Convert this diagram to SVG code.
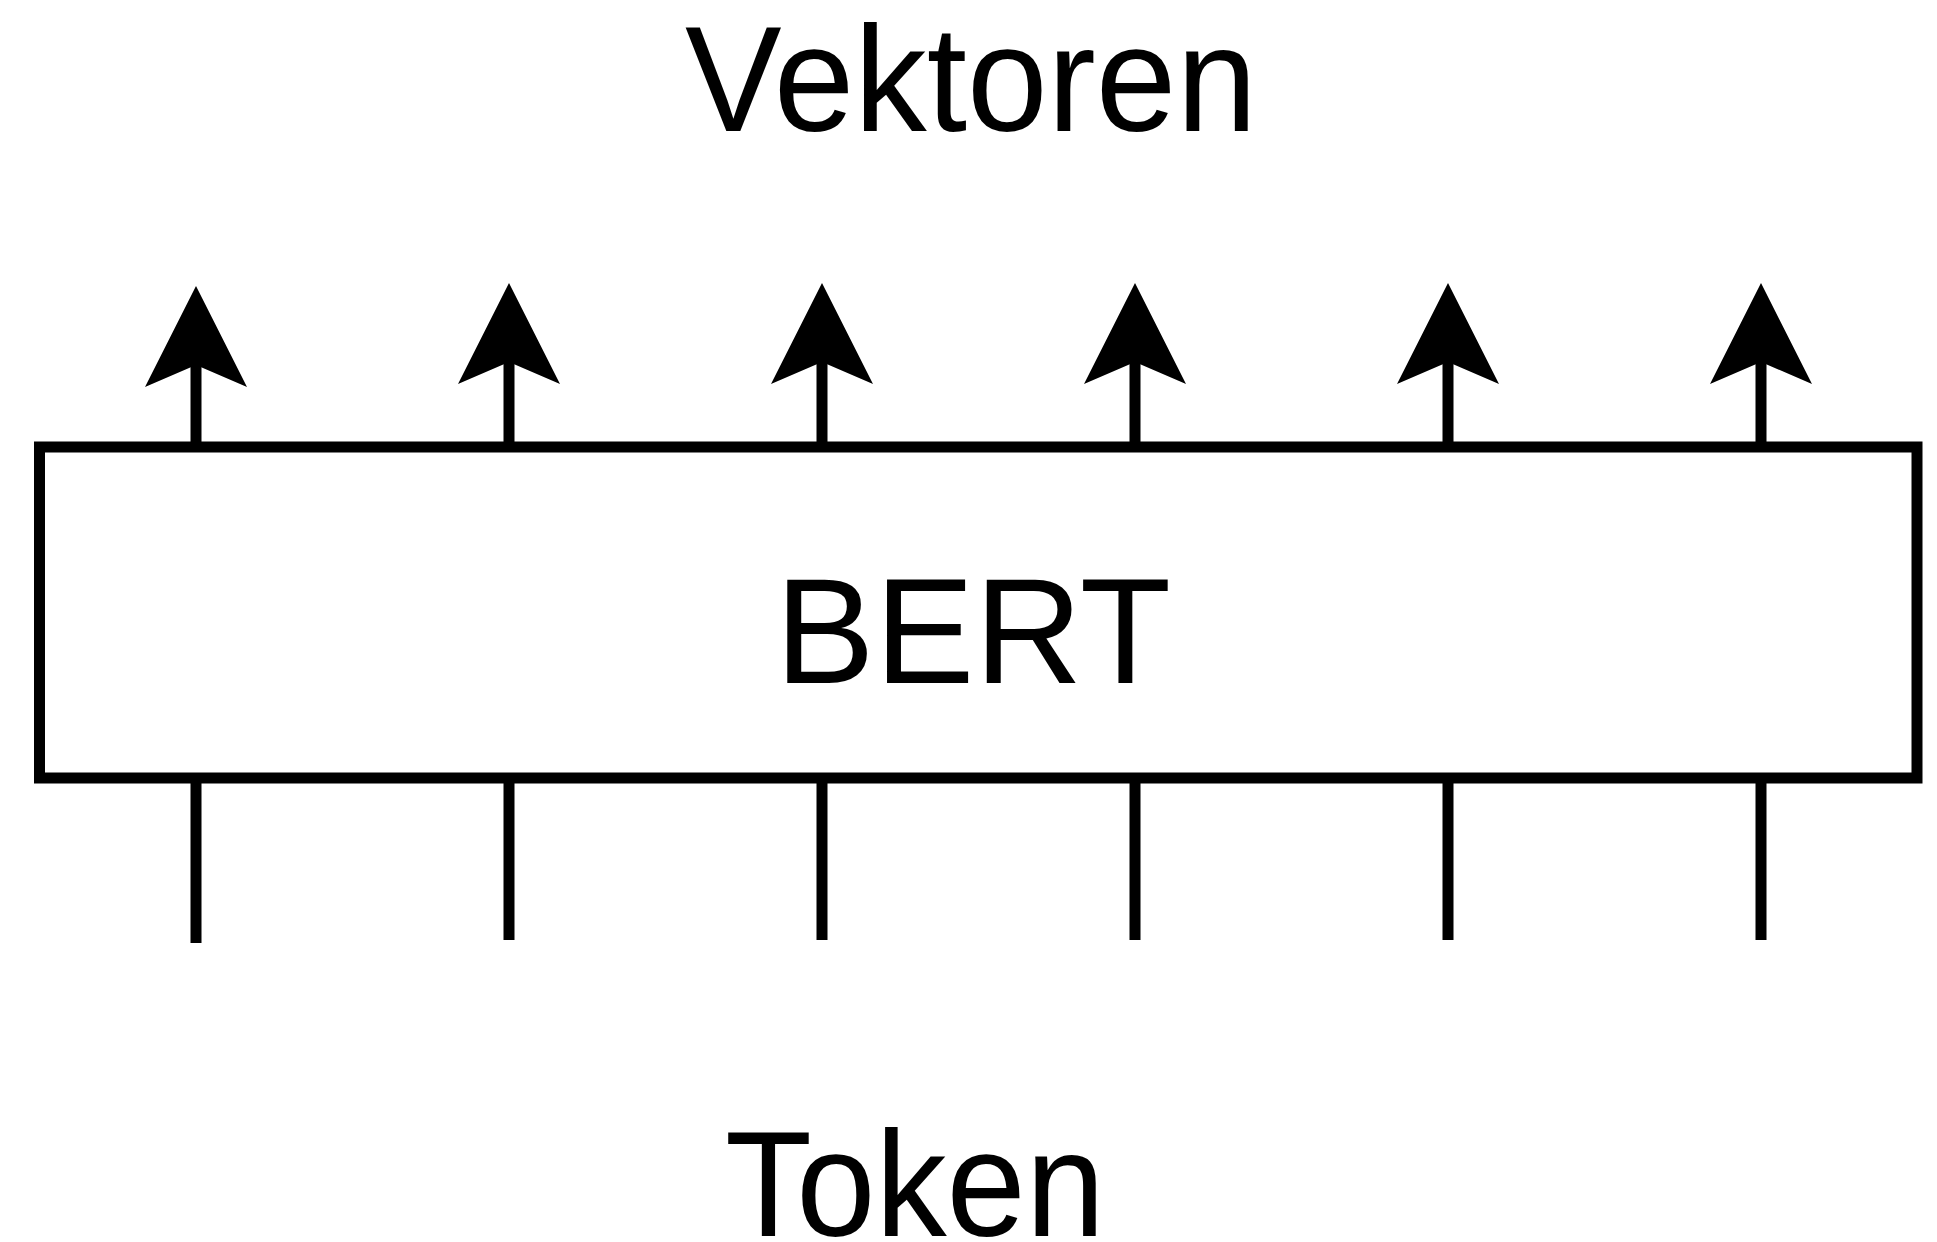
<svg xmlns="http://www.w3.org/2000/svg" width="1937" height="1242" viewBox="0 0 1937 1242">
<style>
.lbl{font-family:"Liberation Sans",Arial,sans-serif;font-size:150px;fill:#000;text-anchor:middle}
.conn{stroke:#000;stroke-width:11;fill:none}
.box{fill:#fff;stroke:#000;stroke-width:11}
</style>
<defs>
<marker id="ah" markerUnits="userSpaceOnUse" markerWidth="200" markerHeight="200" viewBox="-100 -100 200 200" refX="0" refY="0" orient="auto" overflow="visible">
<path d="M78,0 L-23,51 L-1,0 L-23,-51 Z" fill="#000"/>
</marker>
</defs>
<rect width="1937" height="1242" fill="#fff"/>
<g id="label-vektoren"><text class="lbl" x="971" y="131" textLength="572" lengthAdjust="spacingAndGlyphs">Vektoren</text></g>
<g id="node-bert">
<rect class="box" x="39.5" y="447" width="1877.5" height="331"/>
<text class="lbl" x="973" y="683" textLength="396" lengthAdjust="spacingAndGlyphs">BERT</text>
</g>
<g id="label-token"><text class="lbl" x="915" y="1236" textLength="380" lengthAdjust="spacingAndGlyphs">Token</text></g>
<g id="connectors">
<line class="conn" x1="196" y1="447" x2="196" y2="364" marker-end="url(#ah)"/>
<line class="conn" x1="509" y1="447" x2="509" y2="361" marker-end="url(#ah)"/>
<line class="conn" x1="822" y1="447" x2="822" y2="361" marker-end="url(#ah)"/>
<line class="conn" x1="1135" y1="447" x2="1135" y2="361" marker-end="url(#ah)"/>
<line class="conn" x1="1448" y1="447" x2="1448" y2="361" marker-end="url(#ah)"/>
<line class="conn" x1="1761" y1="447" x2="1761" y2="361" marker-end="url(#ah)"/>
<line class="conn" x1="196" y1="778" x2="196" y2="943"/>
<line class="conn" x1="509" y1="778" x2="509" y2="940"/>
<line class="conn" x1="822" y1="778" x2="822" y2="940"/>
<line class="conn" x1="1135" y1="778" x2="1135" y2="940"/>
<line class="conn" x1="1448" y1="778" x2="1448" y2="940"/>
<line class="conn" x1="1761" y1="778" x2="1761" y2="940"/>
</g>
</svg>
